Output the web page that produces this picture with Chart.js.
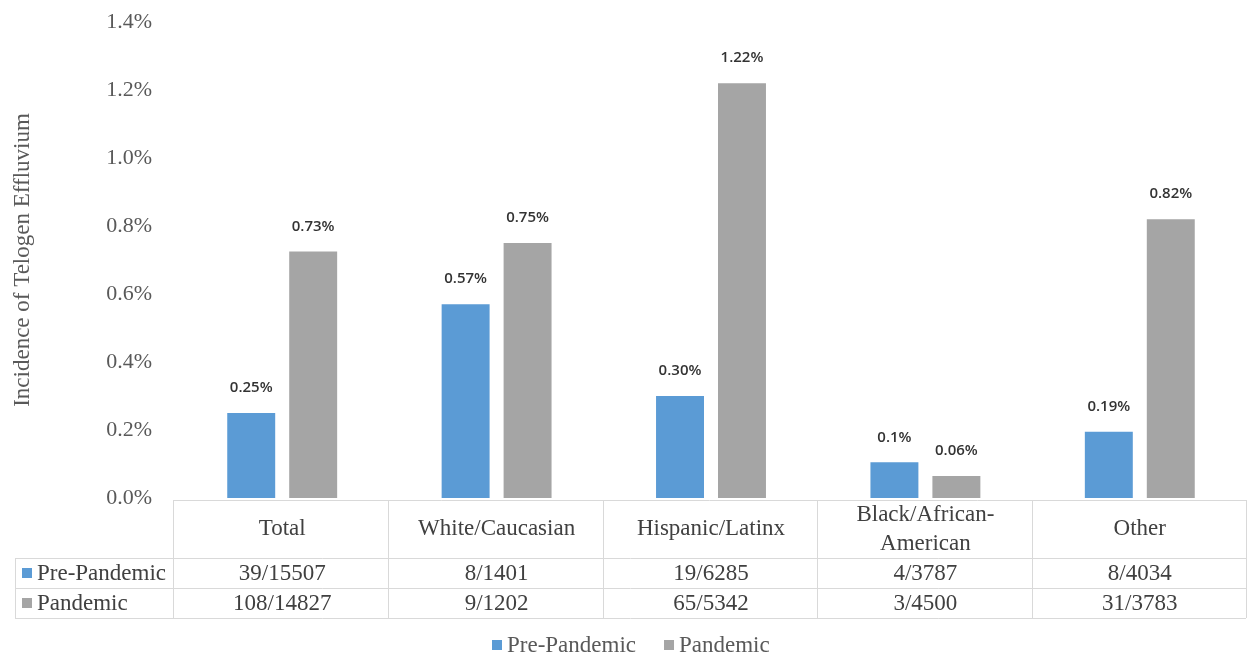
<!DOCTYPE html>
<html>
<head>
<meta charset="utf-8">
<script src="https://cdn.jsdelivr.net/npm/chart.js@4.4.0/dist/chart.umd.min.js"></script>
<style>
  html, body { margin: 0; padding: 0; background: #ffffff; }
  #wrap { width: 1247px; height: 653px; position: relative; }
</style>
</head>
<body>
<div id="wrap"><canvas id="c" width="1247" height="653"></canvas></div>
<script>
const categories = ['Total', 'White/Caucasian', 'Hispanic/Latinx', ['Black/African-', 'American'], 'Other'];
const seriesNames = ['Pre-Pandemic', 'Pandemic'];
const prePandemic = [0.25, 0.57, 0.30, 0.105, 0.195];
const pandemic = [0.725, 0.75, 1.22, 0.065, 0.82];
const preLabels = ['0.25%', '0.57%', '0.30%', '0.1%', '0.19%'];
const pandemicLabels = ['0.73%', '0.75%', '1.22%', '0.06%', '0.82%'];
const preCounts = ['39/15507', '8/1401', '19/6285', '4/3787', '8/4034'];
const pandemicCounts = ['108/14827', '9/1202', '65/5342', '3/4500', '31/3783'];
const yTicks = { min: 0, max: 1.4, step: 0.2 };
const yTitle = 'Incidence of Telogen Effluvium';

const colors = ['#5B9BD5', '#A5A5A5'];
const serif = '"Liberation Serif", "Times New Roman", serif';
const labelSets = [preLabels, pandemicLabels];
const countSets = [preCounts, pandemicCounts];

const dataLabelPlugin = {
  id: 'dataLabels',
  afterDatasetsDraw(chart) {
    const ctx = chart.ctx;
    ctx.save();
    ctx.font = '600 15px "Open Sans", sans-serif';
    ctx.fillStyle = '#333333';
    ctx.textAlign = 'center';
    ctx.textBaseline = 'middle';
    chart.data.datasets.forEach((ds, di) => {
      const meta = chart.getDatasetMeta(di);
      meta.data.forEach((el, i) => {
        ctx.fillText(labelSets[di][i], el.x, el.y - 25);
      });
    });
    ctx.restore();
  }
};

const tablePlugin = {
  id: 'dataTable',
  afterDraw(chart) {
    const ctx = chart.ctx;
    const xs = chart.scales.x;
    const area = chart.chartArea;
    const n = categories.length;
    const cw = (xs.right - xs.left) / n;
    const top = area.bottom + 2;
    const headBottom = top + 58;
    const row1Bottom = headBottom + 30;
    const row2Bottom = row1Bottom + 30;
    const tableLeft = 15;
    const left = xs.left - 2;
    const right = xs.right - 1;
    ctx.save();
    ctx.strokeStyle = '#D9D9D9';
    ctx.lineWidth = 1;
    ctx.beginPath();
    ctx.moveTo(left, top + 0.5); ctx.lineTo(right, top + 0.5);
    [headBottom, row1Bottom, row2Bottom].forEach(y => {
      ctx.moveTo(tableLeft, y + 0.5); ctx.lineTo(right, y + 0.5);
    });
    ctx.moveTo(tableLeft + 0.5, headBottom); ctx.lineTo(tableLeft + 0.5, row2Bottom);
    ctx.moveTo(left + 0.5, top); ctx.lineTo(left + 0.5, row2Bottom);
    for (let i = 1; i <= n; i++) {
      const x = Math.round(xs.left + cw * i - 1) + 0.5;
      ctx.moveTo(x, top); ctx.lineTo(x, row2Bottom);
    }
    ctx.stroke();

    ctx.font = '23px ' + serif;
    ctx.fillStyle = '#404040';
    ctx.textAlign = 'center';
    ctx.textBaseline = 'middle';
    categories.forEach((c, i) => {
      const cx = xs.getPixelForValue(i);
      const lines = Array.isArray(c) ? c : [c];
      const lh = 29;
      const midY = (top + headBottom) / 2;
      lines.forEach((ln, k) => {
        ctx.fillText(ln, cx, midY + (k - (lines.length - 1) / 2) * lh);
      });
    });
    const rowMids = [(headBottom + row1Bottom) / 2, (row1Bottom + row2Bottom) / 2];
    countSets.forEach((set, r) => {
      set.forEach((v, i) => {
        ctx.fillText(v, xs.getPixelForValue(i), rowMids[r] + 1);
      });
    });
    ctx.textAlign = 'left';
    seriesNames.forEach((name, r) => {
      ctx.fillStyle = colors[r];
      ctx.fillRect(22, Math.round(rowMids[r] - 5), 10, 10);
      ctx.fillStyle = '#404040';
      ctx.fillText(name, 37, rowMids[r] + 1);
    });

    // legend
    ctx.font = '23px ' + serif;
    const legY = 645;
    const box = 10, gapBox = 5, gapItem = 28;
    const widths = seriesNames.map(s => ctx.measureText(s).width);
    let x = 492;
    seriesNames.forEach((s, i) => {
      ctx.fillStyle = colors[i];
      ctx.fillRect(x, legY - 5, box, box);
      ctx.fillStyle = '#595959';
      ctx.fillText(s, x + box + gapBox, legY + 1);
      x += box + gapBox + widths[i] + gapItem;
    });
    ctx.restore();
  }
};

new Chart(document.getElementById('c'), {
  type: 'bar',
  data: {
    labels: categories,
    datasets: [
      { label: seriesNames[0], data: prePandemic, backgroundColor: colors[0] },
      { label: seriesNames[1], data: pandemic, backgroundColor: colors[1] }
    ]
  },
  options: {
    responsive: false,
    animation: false,
    devicePixelRatio: 1,
    layout: { padding: { top: 22, right: 0, bottom: 155, left: 0 } },
    datasets: { bar: { categoryPercentage: 0.578, barPercentage: 0.774 } },
    plugins: { legend: { display: false }, tooltip: { enabled: false } },
    scales: {
      x: { display: false },
      y: {
        min: yTicks.min, max: yTicks.max,
        afterFit(s) { s.width = 175; },
        border: { display: false },
        grid: { display: false, drawTicks: true, tickLength: 23 },
        ticks: {
          stepSize: yTicks.step,
          padding: 0,
          color: '#595959',
          font: { family: serif, size: 22 },
          callback: v => v.toFixed(1) + '%'
        },
        title: {
          display: true,
          text: yTitle,
          color: '#595959',
          font: { family: serif, size: 23 },
          padding: { top: 9, bottom: 0 }
        }
      }
    }
  },
  plugins: [dataLabelPlugin, tablePlugin]
});
</script>
</body>
</html>
